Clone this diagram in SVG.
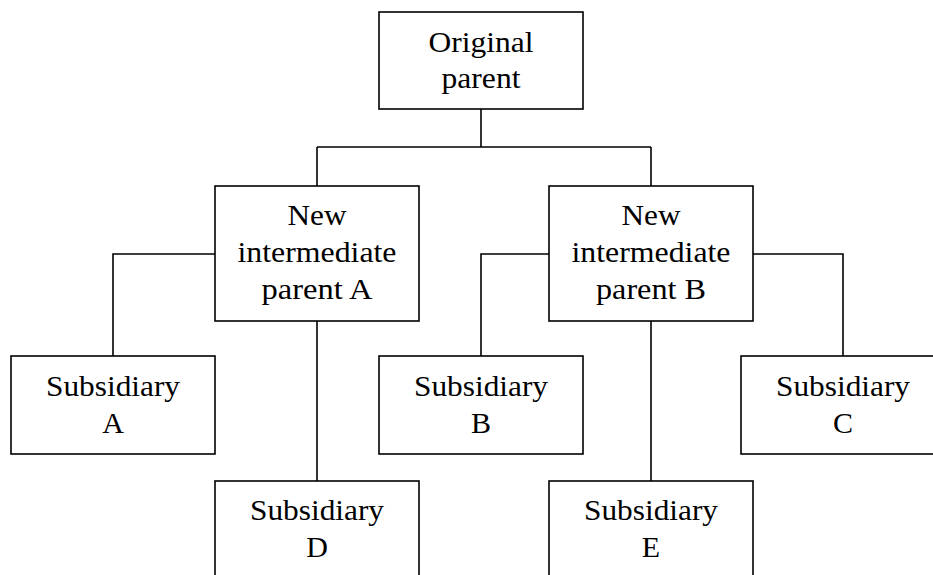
<svg xmlns="http://www.w3.org/2000/svg" width="933" height="575" viewBox="0 0 933 575">
<style>
.box{fill:#fff;stroke:#000;stroke-width:1.6}
.conn{fill:none;stroke:#000;stroke-width:1.6}
.t{font-family:'Liberation Serif','Times New Roman',Times,serif;font-size:30px;fill:#000;text-anchor:middle}
</style>
<rect width="933" height="575" fill="#fff"/>
<g id="connectors" class="conn">
<path d="M481,109 V147 M317,147 H651 M317,147 V186 M651,147 V186"/>
<path d="M215,254 H113 V356"/>
<path d="M317,321 V481"/>
<path d="M549,254 H481 V356"/>
<path d="M651,321 V481"/>
<path d="M753,254 H843 V356"/>
</g>
<g id="original-parent" class="t">
<rect class="box" x="379" y="12" width="204" height="97"/>
<text x="481" y="52" textLength="105" lengthAdjust="spacingAndGlyphs">Original</text>
<text x="481" y="88" textLength="79" lengthAdjust="spacingAndGlyphs">parent</text>
</g>
<g id="intermediate-a" class="t">
<rect class="box" x="215" y="186" width="204" height="135"/>
<text x="317" y="225" textLength="59" lengthAdjust="spacingAndGlyphs">New</text>
<text x="317" y="262" textLength="159" lengthAdjust="spacingAndGlyphs">intermediate</text>
<text x="317" y="299" textLength="111" lengthAdjust="spacingAndGlyphs">parent A</text>
</g>
<g id="intermediate-b" class="t">
<rect class="box" x="549" y="186" width="204" height="135"/>
<text x="651" y="225" textLength="59" lengthAdjust="spacingAndGlyphs">New</text>
<text x="651" y="262" textLength="159" lengthAdjust="spacingAndGlyphs">intermediate</text>
<text x="651" y="299" textLength="110" lengthAdjust="spacingAndGlyphs">parent B</text>
</g>
<g id="subsidiary-a" class="t">
<rect class="box" x="11" y="356" width="204" height="98"/>
<text x="113" y="396" textLength="134" lengthAdjust="spacingAndGlyphs">Subsidiary</text>
<text x="113" y="433">A</text>
</g>
<g id="subsidiary-b" class="t">
<rect class="box" x="379" y="356" width="204" height="98"/>
<text x="481" y="396" textLength="134" lengthAdjust="spacingAndGlyphs">Subsidiary</text>
<text x="481" y="433">B</text>
</g>
<g id="subsidiary-c" class="t">
<rect class="box" x="741" y="356" width="204" height="98"/>
<text x="843" y="396" textLength="134" lengthAdjust="spacingAndGlyphs">Subsidiary</text>
<text x="843" y="433">C</text>
</g>
<g id="subsidiary-d" class="t">
<rect class="box" x="215" y="481" width="204" height="120"/>
<text x="317" y="520" textLength="134" lengthAdjust="spacingAndGlyphs">Subsidiary</text>
<text x="317" y="557">D</text>
</g>
<g id="subsidiary-e" class="t">
<rect class="box" x="549" y="481" width="204" height="120"/>
<text x="651" y="520" textLength="134" lengthAdjust="spacingAndGlyphs">Subsidiary</text>
<text x="651" y="557">E</text>
</g>
</svg>
